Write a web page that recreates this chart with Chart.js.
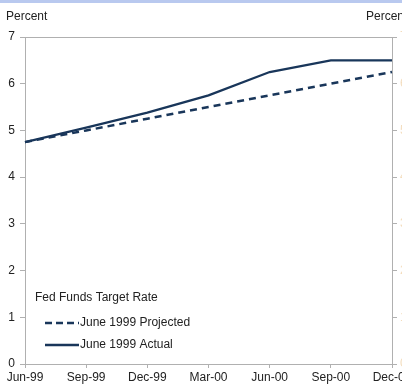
<!DOCTYPE html>
<html>
<head>
<meta charset="utf-8">
<script src="https://cdn.jsdelivr.net/npm/chart.js@4/dist/chart.umd.min.js"></script>
<style>
  html, body { margin: 0; padding: 0; background: #fff; }
  #wrap { position: relative; width: 402px; height: 386px; overflow: hidden; }
  #band { position: absolute; left: 0; top: 0; width: 402px; height: 3px; background: #b9c9ef; }
  canvas { display: block; }
</style>
</head>
<body>
<div id="wrap">
  <canvas id="c" width="402" height="386"></canvas>
  <div id="band"></div>
</div>
<script>
// Quarterly dates on the horizontal axis
const quarters = ['Jun-99', 'Sep-99', 'Dec-99', 'Mar-00', 'Jun-00', 'Sep-00', 'Dec-00'];
// Fed funds target rate, percent
const projected = [4.75, 5.00, 5.25, 5.50, 5.75, 6.00, 6.25];
const actual    = [4.75, 5.06, 5.38, 5.75, 6.25, 6.50, 6.50];
// Vertical axis ticks
const yTicks = [0, 1, 2, 3, 4, 5, 6, 7];

const seriesNames = ['June 1999 Projected', 'June 1999 Actual'];
const legendTitle = 'Fed Funds Target Rate';
const axisTitle = 'Percent';

const NAVY = '#19365a';
const AXIS = '#b0b0b0';
const FONT = '"Liberation Sans", Arial, sans-serif';

const decorations = {
  id: 'decorations',
  afterDraw(chart) {
    const ctx = chart.ctx;
    const a = chart.chartArea;
    ctx.save();
    // frame across the top of the plot
    ctx.strokeStyle = AXIS;
    ctx.lineWidth = 1;
    ctx.beginPath();
    ctx.moveTo(a.left, a.top + 0.5);
    ctx.lineTo(a.right, a.top + 0.5);
    ctx.stroke();

    // axis titles
    ctx.fillStyle = '#222';
    ctx.font = '12px ' + FONT;
    ctx.textBaseline = 'middle';
    ctx.textAlign = 'left';
    ctx.fillText(axisTitle, 6, 17);
    ctx.fillText(axisTitle, 366, 17);

    // legend inside the plot
    ctx.fillText(legendTitle, 35, 298);
    const items = [
      { y: 323, dash: [7, 4] },
      { y: 345, dash: [] }
    ];
    items.forEach((it, i) => {
      ctx.strokeStyle = NAVY;
      ctx.lineWidth = 2.5;
      ctx.setLineDash(it.dash);
      ctx.beginPath();
      ctx.moveTo(45, it.y);
      ctx.lineTo(79, it.y);
      ctx.stroke();
      ctx.setLineDash([]);
      ctx.fillStyle = '#222';
      ctx.fillText(seriesNames[i], 80, it.y);
    });
    ctx.restore();
  }
};

new Chart(document.getElementById('c'), {
  type: 'line',
  data: {
    labels: quarters,
    datasets: [
      {
        label: seriesNames[0],
        data: projected,
        borderColor: NAVY,
        borderWidth: 2.5,
        borderDash: [7, 5],
        pointRadius: 0,
        tension: 0,
        yAxisID: 'y'
      },
      {
        label: seriesNames[1],
        data: actual,
        borderColor: NAVY,
        borderWidth: 2.3,
        pointRadius: 0,
        tension: 0,
        yAxisID: 'y'
      }
    ]
  },
  options: {
    responsive: false,
    animation: false,
    layout: { padding: { top: 37, left: 0, right: 0, bottom: 0 } },
    plugins: { legend: { display: false }, tooltip: { enabled: false } },
    scales: {
      x: {
        type: 'category',
        offset: false,
        grid: { drawOnChartArea: false, color: AXIS, tickLength: 4 },
        border: { color: AXIS },
        ticks: { color: '#222', font: { family: FONT, size: 12 }, padding: 2, maxRotation: 0, autoSkip: false },
        afterFit(s) { s.height = 22; s.paddingLeft = 0; s.paddingRight = 0; }
      },
      y: {
        position: 'left',
        min: 0,
        max: 7,
        afterBuildTicks(s) { s.ticks = yTicks.map(v => ({ value: v })); },
        grid: { drawOnChartArea: false, color: AXIS, tickLength: 5 },
        border: { color: AXIS },
        ticks: { color: '#222', font: { family: FONT, size: 12 }, padding: 5 },
        afterFit(s) { s.width = 25; s.paddingTop = 0; s.paddingBottom = 0; }
      },
      y2: {
        position: 'right',
        min: 0,
        max: 7,
        afterBuildTicks(s) { s.ticks = yTicks.map(v => ({ value: v })); },
        grid: { drawOnChartArea: false, color: AXIS, tickLength: 5 },
        border: { color: AXIS },
        ticks: { color: '#f3dcbc', font: { family: FONT, size: 12 }, padding: 3 },
        afterFit(s) { s.width = 10; s.paddingTop = 0; s.paddingBottom = 0; }
      }
    }
  },
  plugins: [decorations]
});
</script>
</body>
</html>
